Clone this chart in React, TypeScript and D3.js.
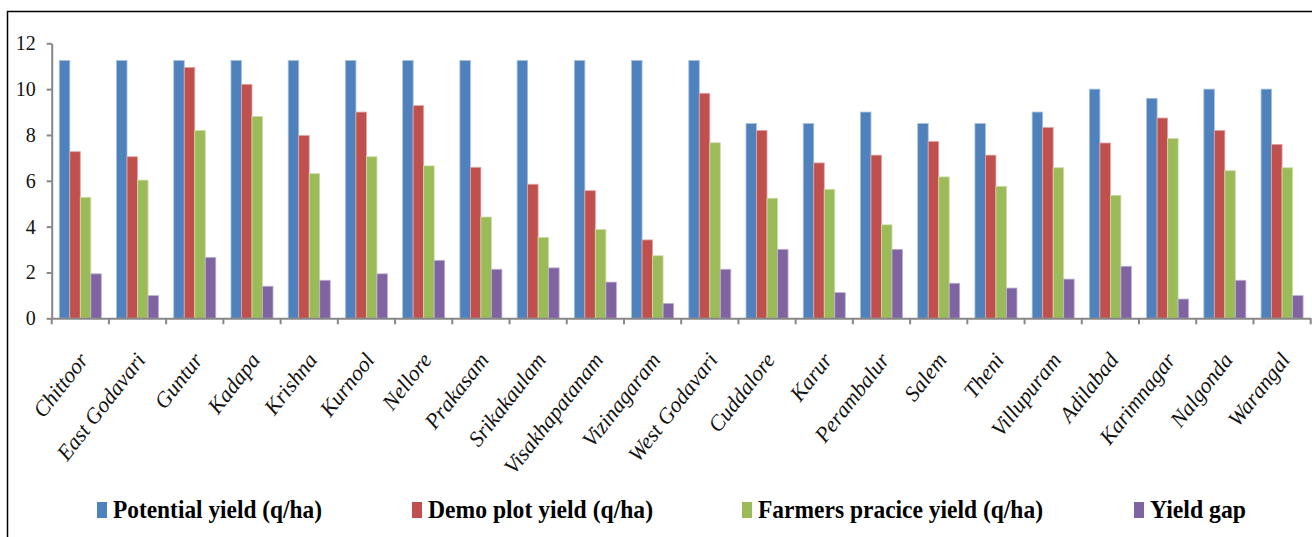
import { useEffect, useRef } from 'react';
import * as d3 from 'd3';

// districts on the x axis
const districts = [
  'Chittoor', 'East Godavari', 'Guntur', 'Kadapa', 'Krishna', 'Kurnool',
  'Nellore', 'Prakasam', 'Srikakaulam', 'Visakhapatanam', 'Vizinagaram',
  'West Godavari', 'Cuddalore', 'Karur', 'Perambalur', 'Salem', 'Theni',
  'Villupuram', 'Adilabad', 'Karimnagar', 'Nalgonda', 'Warangal',
];

const potentialYield = [
  11.25, 11.25, 11.25, 11.25, 11.25, 11.25, 11.25, 11.25, 11.25, 11.25, 11.25,
  11.25, 8.5, 8.5, 9.0, 8.5, 8.5, 9.0, 10.0, 9.6, 10.0, 10.0,
];
const demoYield = [
  7.27, 7.05, 10.95, 10.21, 7.98, 9.0, 9.28, 6.59, 5.85, 5.57, 3.42,
  9.82, 8.2, 6.78, 7.12, 7.72, 7.12, 8.33, 7.65, 8.74, 8.2, 7.59,
];
const farmersYield = [
  5.28, 6.03, 8.2, 8.81, 6.31, 7.05, 6.65, 4.42, 3.53, 3.88, 2.73,
  7.66, 5.24, 5.63, 4.08, 6.17, 5.76, 6.57, 5.37, 7.85, 6.44, 6.57,
];
const yieldGap = [
  1.94, 0.99, 2.66, 1.4, 1.66, 1.94, 2.53, 2.14, 2.2, 1.58, 0.65,
  2.14, 3.01, 1.12, 3.01, 1.53, 1.32, 1.71, 2.27, 0.84, 1.66, 0.99,
];

const seriesNames = [
  'Potential yield (q/ha)',
  'Demo plot yield (q/ha)',
  'Farmers pracice yield (q/ha)',
  'Yield gap',
];
const seriesColors = ['#4F81BD', '#C0504D', '#9BBB59', '#8064A2'];
const seriesStroke = ['#A7C0DE', '#DFA8A6', '#CDDDAC', '#BFB1D0'];
const yTicks = [0, 2, 4, 6, 8, 10, 12];

// legend layout: swatch x, text width
const legendX = [97, 412, 742, 1134];
const legendW = [209, 225, 285, 96];

const FONT = "'Liberation Serif', 'Times New Roman', Times, serif";

const W = 1312,
  H = 537,
  left = 51.7,
  right = 1310.7,
  top = 43.3,
  bottom = 318.3;

export default function App() {
  const gx = useRef<SVGGElement>(null),
    gy = useRef<SVGGElement>(null);

  const values = [potentialYield, demoYield, farmersYield, yieldGap];

  const x = d3.scaleBand().domain(districts).range([left, right]).padding(0);
  const sub = d3
    .scaleBand()
    .domain(seriesNames)
    .range([7.6, x.bandwidth() - 7.6])
    .padding(0);
  const y = d3.scaleLinear().domain([0, 12]).range([bottom, top]);

  useEffect(() => {
    const ax = d3.select(gx.current!);
    ax.call(d3.axisBottom(x).tickValues([]).tickSizeOuter(0));
    ax.selectAll('.tick').remove();
    ax.selectAll('line.tk')
      .data(d3.range(districts.length + 1))
      .join('line')
      .attr('class', 'tk')
      .attr('x1', (i) => left + i * x.bandwidth())
      .attr('x2', (i) => left + i * x.bandwidth())
      .attr('y1', 0)
      .attr('y2', 6);
    ax.selectAll('path, line').attr('stroke', '#878787').attr('stroke-width', 2);
    ax.selectAll('text.lbl')
      .data(districts)
      .join('text')
      .attr('class', 'lbl')
      .attr(
        'transform',
        (d) => `translate(${x(d)! + x.bandwidth() / 2 + 9},${42}) rotate(-52)`
      )
      .attr('text-anchor', 'end')
      .style('font-family', FONT)
      .attr('font-style', 'italic')
      .attr('font-size', 22)
      .attr('fill', '#111')
      .text((d) => d);

    const ay = d3.select(gy.current!);
    ay.call(d3.axisLeft(y).tickValues(yTicks).tickSize(5).tickSizeOuter(0).tickPadding(11));
    ay.selectAll('path, line').attr('stroke', '#878787').attr('stroke-width', 2);
    ay.selectAll('text')
      .style('font-family', FONT)
      .attr('font-size', 20)
      .attr('fill', '#111');
  }, []);

  return (
    <svg
      width={W}
      height={H}
      style={{ position: 'absolute', left: 0, top: 0, background: '#fff' }}
    >
      <path d={`M7.5,${H}V11.5H${W}`} fill="none" stroke="#000" strokeWidth={1.5} />
      {values.map((vals, s) => (
        <g key={seriesNames[s]}>
          {districts.map((d, i) => (
            <rect
              key={d}
              x={x(d)! + sub(seriesNames[s])!}
              y={y(vals[i])}
              width={sub.bandwidth()}
              height={y(0) - y(vals[i])}
              fill={seriesColors[s]}
              stroke={seriesStroke[s]}
              strokeWidth={0.8}
            />
          ))}
        </g>
      ))}
      <g ref={gx} transform={`translate(0,${bottom})`} />
      <g ref={gy} transform={`translate(${left},0)`} />
      <g style={{ fontFamily: FONT }} fontWeight="bold" fontSize={25}>
        {seriesNames.map((n, i) => (
          <g key={n}>
            <rect x={legendX[i]} y={502} width={10} height={16} fill={seriesColors[i]} />
            <text
              x={legendX[i] + 16}
              y={518}
              textLength={legendW[i]}
              lengthAdjust="spacingAndGlyphs"
              fill="#000"
            >
              {n}
            </text>
          </g>
        ))}
      </g>
    </svg>
  );
}
